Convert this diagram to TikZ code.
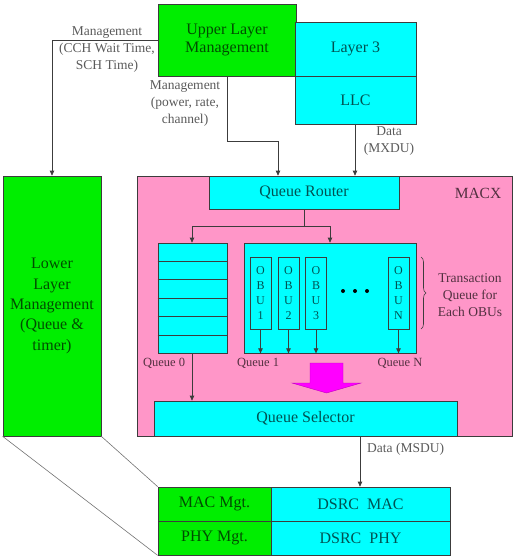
\documentclass[tikz,border=0pt]{standalone}
\usepackage{fontspec}
\setmainfont{Liberation Serif}
\usetikzlibrary{arrows.meta,decorations.pathreplacing,calc}
\definecolor{gbox}{RGB}{0,238,0}
\definecolor{cbox}{RGB}{0,255,255}
\definecolor{pbox}{RGB}{255,150,200}
\definecolor{mag}{RGB}{255,0,255}
\definecolor{lbl}{RGB}{90,90,90}
\definecolor{ln}{RGB}{60,60,60}
\tikzset{
  blk/.style={draw=ln, line width=0.7pt, inner sep=0pt, align=center, text=black, text opacity=0.68},
  gblk/.style={blk, fill=gbox},
  cblk/.style={blk, fill=cbox},
  pblk/.style={blk, fill=pbox},
  big/.style={font=\fontsize{16}{18}\selectfont},
  lab/.style={text=lbl, align=center, inner sep=0pt, font=\fontsize{13.5}{17}\selectfont},
  conn/.style={draw=ln, line width=0.7pt},
  arr/.style={conn, -{Triangle[length=5pt,width=4.5pt]}},
  obu/.style={blk, fill=cbox, minimum width=21pt, minimum height=72pt, font=\fontsize{12}{15}\selectfont},
  plain/.style={text=black, text opacity=0.68, inner sep=0pt},
}
\begin{document}
\begin{tikzpicture}[x=1pt,y=-1pt]
\useasboundingbox (0,0) rectangle (516,559);
% top blocks
\node[gblk, big, minimum width=138pt, minimum height=72pt] (ulm) at (227,40) {Upper Layer\\Management};
\node[cblk, big, minimum width=121pt, minimum height=54pt] (l3) at (355.5,49) {Layer 3};
\node[cblk, big, minimum width=121pt, minimum height=48pt] (llc) at (355.5,100) {LLC};
% left block
\node[gblk, minimum width=98pt, minimum height=260pt, font=\fontsize{16}{20.3}\selectfont] (llm) at (52,306) {Lower\\Layer\\Management\\(Queue \&\\timer)};
% MACX
\node[pblk, minimum width=375pt, minimum height=260pt] (macx) at (324.5,306) {};
\node[plain, font=\fontsize{15.5}{18}\selectfont] (macxl) at (478,193) {MACX};
\node[cblk, big, minimum width=190pt, minimum height=33pt] (qr) at (304,192.5) {Queue Router};
% queue 0
\node[cblk, minimum width=69pt, minimum height=110pt] (q0) at (192.5,298) {};
\foreach \k in {1,...,5} {
  \draw[conn] ($(q0.north west)!\k/6!(q0.south west)$) -- ($(q0.north east)!\k/6!(q0.south east)$);
}
% OBU container
\node[cblk, minimum width=172pt, minimum height=110pt] (oc) at (330,298) {};
\node[obu] (o1) at (260.5,293) {O\\B\\U\\1};
\node[obu] (o2) at (288.5,293) {O\\B\\U\\2};
\node[obu] (o3) at (316,293) {O\\B\\U\\3};
\node[obu] (on) at (398.5,293) {O\\B\\U\\N};
\foreach \xx in {343,355,367} \fill[black] (\xx,291) circle (2pt);
\foreach \o in {o1,o2,o3,on} \draw[arr] (\o.south) -- (\o.south |- oc.south);
% brace
\coordinate (bt) at (421,257);
\coordinate (bb) at (421,329);
\draw[ln, line width=0.6pt, decorate, decoration={brace, amplitude=5pt}] (bt) -- (bb);
\node[plain, align=center, font=\fontsize{13.5}{17}\selectfont] (tq) at (470,295) {Transaction\\Queue for\\Each OBUs};
% queue labels
\node[plain, font=\fontsize{12.5}{15}\selectfont] (lq0) at (164,363) {Queue 0};
\node[plain, font=\fontsize{12.5}{15}\selectfont] (lq1) at (258,363) {Queue 1};
\node[plain, font=\fontsize{12.5}{15}\selectfont] (lqn) at (400,363) {Queue N};
% queue selector
\node[cblk, big, minimum width=303pt, minimum height=35pt] (qs) at (305.5,418.5) {Queue Selector};
% big arrow
\draw[fill=mag, draw=mag!75!black, line width=0.4pt] (310,363) -- (343,363) -- (343,383) -- (361,383) -- (326.5,393) -- (292,383) -- (310,383) -- cycle;
% bottom blocks
\node[gblk, big, minimum width=113pt, minimum height=34pt] (macm) at (214.5,504) {MAC Mgt.};
\node[gblk, big, minimum width=113pt, minimum height=34pt] (phym) at (214.5,538) {PHY Mgt.};
\node[cblk, big, minimum width=179pt, minimum height=34pt] (dmac) at (360.5,504) {DSRC\ \ MAC};
\node[cblk, big, minimum width=179pt, minimum height=34pt] (dphy) at (360.5,538) {DSRC\ \ PHY};
% connectors
\coordinate (c1) at (52,40);
\draw[arr] (ulm.west |- c1) -- (c1) -- (llm.north);
\node[lab] (lm1) at (107,50) {Management\\(CCH Wait Time,\\SCH Time)};
\coordinate (c2a) at (227,141);
\coordinate (c2b) at (278,141);
\draw[arr] (ulm.south) -- (c2a) -- (c2b) -- (c2b |- qr.north);
\node[lab] (lm2) at (185,104) {Management\\(power, rate,\\channel)};
\coordinate (c3) at (355,124);
\draw[arr] (c3) -- (c3 |- qr.north);
\node[lab] (ld1) at (389,141.5) {Data\\(MXDU)};
\coordinate (c4) at (304,226);
\draw[conn] (qr.south) -- (c4);
\coordinate (c4l) at (192,226);
\coordinate (c4r) at (330,226);
\draw[conn] (c4l) -- (c4r);
\draw[arr] (c4l) -- (c4l |- q0.north);
\draw[arr] (c4r) -- (c4r |- oc.north);
\coordinate (c5) at (192,353);
\draw[arr] (c5) -- (c5 |- qs.north);
\coordinate (c6) at (360,436);
\draw[arr] (c6) -- (c6 |- dmac.north);
\node[lab, anchor=west] (ld2) at (367,449) {Data (MSDU)};
% diagonals
\draw[draw=black!55, line width=0.6pt] (llm.south west) -- (phym.south west);
\draw[draw=black!55, line width=0.6pt] (llm.south east) -- (macm.north west);
\end{tikzpicture}
\end{document}
